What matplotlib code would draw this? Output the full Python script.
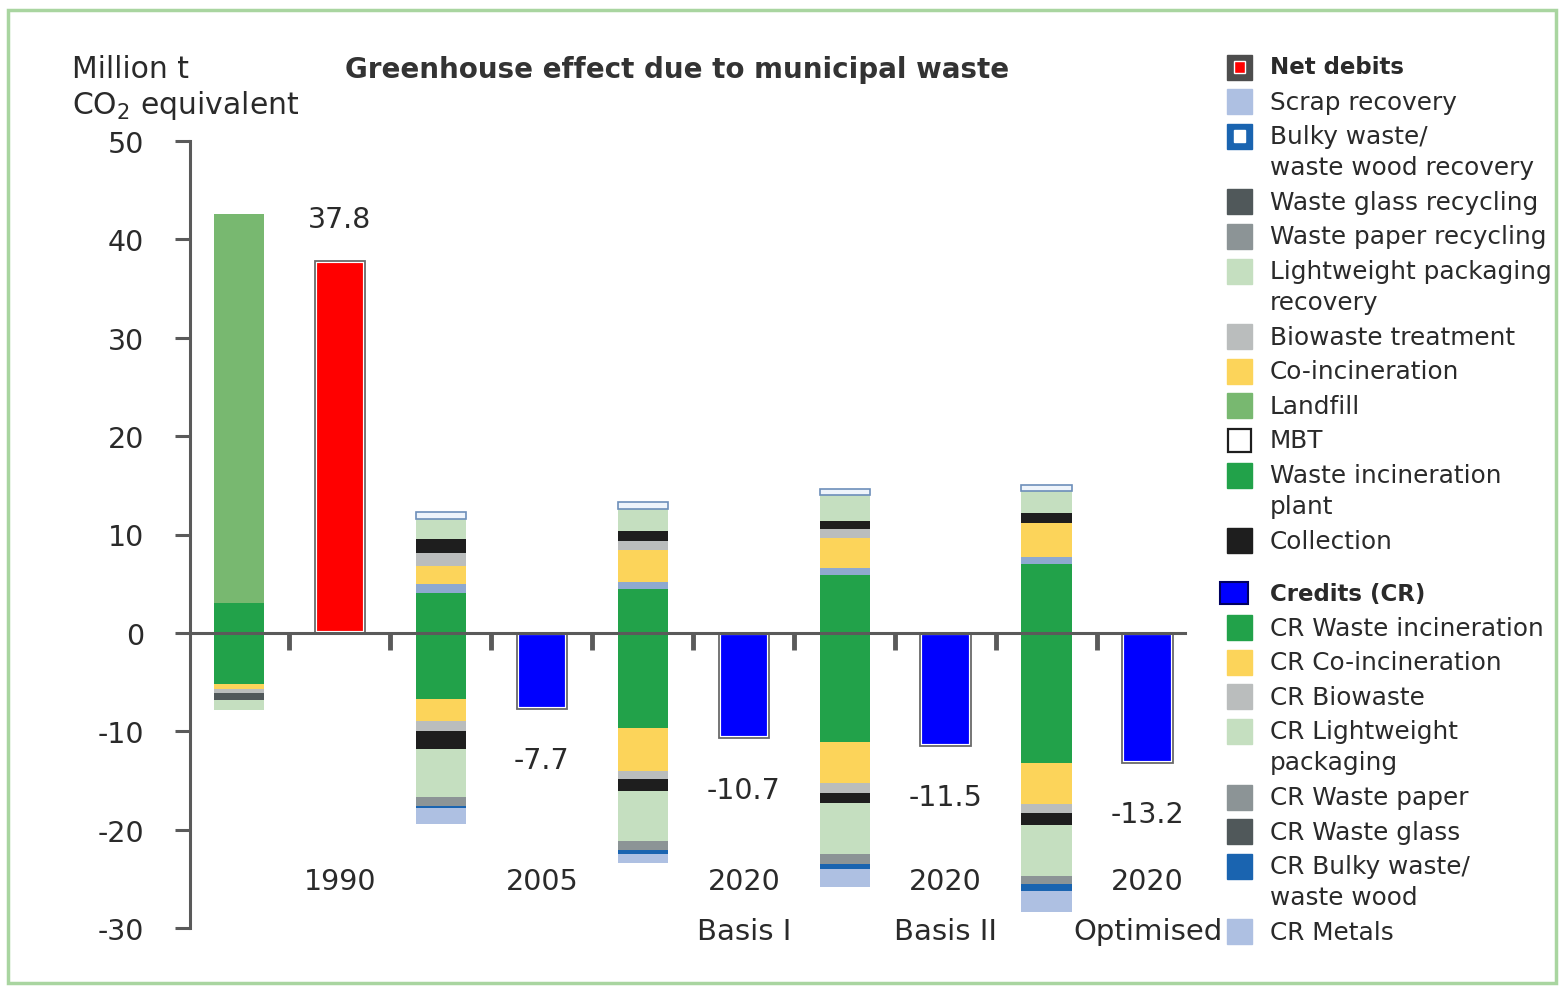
import numpy as np
import matplotlib.pyplot as plt
from matplotlib.patches import Rectangle

plt.rcParams['font.family'] = ['DejaVu Sans']
plt.rcParams['text.color'] = '#2a2a2a'
plt.rcParams['axes.unicode_minus'] = False

# scenarios (one stacked bar + one net bar each)
scenarios = ['1990', '2005', '2020', '2020', '2020']
scenario_sub = ['', '', 'Basis I', 'Basis II', 'Optimised']
net = [37.8, -7.7, -10.7, -11.5, -13.2]

# debits, stacked upwards from zero
incineration_plant = [3.05, 4.1, 4.5, 5.9, 7.0]
scrap_recovery = [0, 0.9, 0.7, 0.7, 0.7]
co_incineration = [0, 1.8, 3.2, 3.0, 3.5]
landfill = [39.5, 0, 0, 0, 0]
biowaste = [0, 1.3, 0.9, 1.0, 0]
collection = [0, 1.4, 1.1, 0.8, 1.0]
lw_packaging = [0, 2.1, 2.2, 2.6, 2.2]
bulky_wood = [0, 0.7, 0.7, 0.6, 0.6]

# credits, stacked downwards from zero
cr_incineration = [5.15, 6.7, 9.7, 11.1, 13.2]
cr_co_incineration = [0.6, 2.3, 4.3, 4.2, 4.2]
cr_biowaste = [0.35, 1.0, 0.9, 1.0, 0.9]
cr_glass = [0.7, 0, 0, 0, 0]
cr_collection = [0, 1.8, 1.2, 1.0, 1.2]
cr_lw_packaging = [1.0, 4.9, 5.1, 5.2, 5.2]
cr_paper = [0, 0.9, 0.9, 1.0, 0.8]
cr_bulky = [0, 0.2, 0.4, 0.5, 0.7]
cr_metals = [0, 1.6, 0.9, 1.8, 2.2]

debits = [
    (incineration_plant, '#22a24a', None),
    (scrap_recovery, '#8ea9d0', None),
    (co_incineration, '#fcd45a', None),
    (landfill, '#78b870', None),
    (biowaste, '#babdbd', None),
    (collection, '#1e1e1e', None),
    (lw_packaging, '#c5dfc0', None),
    (bulky_wood, '#eef4fb', '#6d8fba'),
]
credits = [
    (cr_incineration, '#22a24a'),
    (cr_co_incineration, '#fcd45a'),
    (cr_biowaste, '#babdbd'),
    (cr_glass, '#50585a'),
    (cr_collection, '#1e1e1e'),
    (cr_lw_packaging, '#c5dfc0'),
    (cr_paper, '#8c9496'),
    (cr_bulky, '#1a64b0'),
    (cr_metals, '#aec0e2'),
]

fig = plt.figure(figsize=(15.63, 9.87), dpi=100)
ax = fig.add_axes([190 / 1563, 58 / 987, 995 / 1563, 787 / 987])

stack_x = np.arange(len(scenarios)) * 2
net_x = stack_x + 1
w = 0.5

bottom = np.zeros(len(scenarios))
for vals, col, edge in debits:
    vals = np.array(vals, dtype=float)
    m = vals > 0
    ax.bar(stack_x[m], vals[m], w, bottom=bottom[m], color=col,
           edgecolor=edge if edge else col, lw=1.2 if edge else 0, zorder=2)
    bottom += vals

bottom = np.zeros(len(scenarios))
for vals, col in credits:
    vals = np.array(vals, dtype=float)
    m = vals > 0
    ax.bar(stack_x[m], -vals[m], w, bottom=bottom[m], color=col, lw=0, zorder=2)
    bottom -= vals

# net bars with double outline
net_cols = ['#ff0000' if v > 0 else '#0000ff' for v in net]
ax.bar(net_x, net, w, color=net_cols, edgecolor='white', lw=3, zorder=2)
ax.bar(net_x, net, w, fill=False, edgecolor='#6a6a6a', lw=1.3, zorder=3)

for x, v in zip(net_x, net):
    off = 30 if v > 0 else -37
    ax.annotate(f'{v:.1f}', (x, v), xytext=(0, off), textcoords='offset points',
                ha='center', va='center', fontsize=20.5)

for x, yr, sub in zip(net_x, scenarios, scenario_sub):
    ax.text(x, -25.2, yr, ha='center', va='center', fontsize=20.5)
    if sub:
        ax.text(x, -30.3, sub, ha='center', va='center', fontsize=21, clip_on=False)

ax.set_xlim(-0.485, 9.37)
ax.set_ylim(-30, 50)
ax.set_yticks(range(-30, 51, 10))
ax.set_xticks(np.arange(0.5, 9, 1))
ax.set_xticklabels([])
for s in ['top', 'right']:
    ax.spines[s].set_visible(False)
ax.spines['bottom'].set_position(('data', 0))
for s in ['left', 'bottom']:
    ax.spines[s].set_color('#5a5a5a')
    ax.spines[s].set_linewidth(2.2)
    ax.spines[s].set_zorder(4)
ax.tick_params(axis='y', length=11, width=2.2, color='#5a5a5a', labelsize=20.5,
               pad=22, labelcolor='#2a2a2a')
ax.tick_params(axis='x', length=12, width=3.5, color='#5a5a5a', direction='out')
ax.patch.set_visible(False)

# overlay in pixel coordinates for titles, legend and frame
ov = fig.add_axes([0, 0, 1, 1], zorder=-1)
ov.set_xlim(0, 1563)
ov.set_ylim(987, 0)
ov.axis('off')

ov.add_patch(Rectangle((8, 11), 1548, 973, fill=False, edgecolor='#a9d5a0', lw=2.5))
ov.text(72, 70, 'Million t', fontsize=21.5, va='center')
ov.text(72, 105, r'CO$_\mathregular{2}$ equivalent', fontsize=21.5, va='center')
ov.text(345, 70, 'Greenhouse effect due to municipal waste', fontsize=20,
        fontweight='bold', va='center', color='#333333')

legend_debits = [
    ('Net debits', 'net'),
    ('Scrap recovery', '#aec0e2'),
    ('Bulky waste/\nwaste wood recovery', 'bulky'),
    ('Waste glass recycling', '#50585a'),
    ('Waste paper recycling', '#8c9496'),
    ('Lightweight packaging\nrecovery', '#c5dfc0'),
    ('Biowaste treatment', '#babdbd'),
    ('Co-incineration', '#fcd45a'),
    ('Landfill', '#78b870'),
    ('MBT', 'mbt'),
    ('Waste incineration\nplant', '#22a24a'),
    ('Collection', '#1e1e1e'),
]
legend_credits = [
    ('Credits (CR)', 'cr'),
    ('CR Waste incineration', '#22a24a'),
    ('CR Co-incineration', '#fcd45a'),
    ('CR Biowaste', '#babdbd'),
    ('CR Lightweight\npackaging', '#c5dfc0'),
    ('CR Waste paper', '#8c9496'),
    ('CR Waste glass', '#50585a'),
    ('CR Bulky waste/\nwaste wood', '#1a64b0'),
    ('CR Metals', '#aec0e2'),
]


def draw_legend(entries, y):
    for label, style in entries:
        px, s = 1227, 25
        if style == 'net':
            ov.add_patch(Rectangle((px, y - s / 2), s, s, color='#4d4d4d'))
            ov.add_patch(Rectangle((px + 7, y - 6), 11, 12, facecolor='#ff0000',
                                   edgecolor='white', lw=1))
        elif style == 'bulky':
            ov.add_patch(Rectangle((px, y - s / 2), s, s, color='#1a64b0'))
            ov.add_patch(Rectangle((px + 7, y - 6), 11, 12, color='white'))
        elif style == 'mbt':
            ov.add_patch(Rectangle((px + 1, y - s / 2 + 1), s - 2, s - 2,
                                   facecolor='white', edgecolor='#1e1e1e', lw=1.6))
        elif style == 'cr':
            ov.add_patch(Rectangle((px - 7, y - 11), 28, 22, facecolor='#0000ff',
                                   edgecolor='#000060', lw=1.5))
        else:
            ov.add_patch(Rectangle((px, y - s / 2), s, s, color=style))
        bold = style in ('net', 'cr')
        lines = label.split('\n')
        for i, ln in enumerate(lines):
            ov.text(1270, y + 31 * i, ln, fontsize=17.8 if not bold else 16.5,
                    va='center', fontweight='bold' if bold else 'normal')
        y += 34.6 + 31 * (len(lines) - 1)
    return y


draw_legend(legend_debits, 68)
draw_legend(legend_credits, 594)

fig.savefig('out.png', dpi=100)
